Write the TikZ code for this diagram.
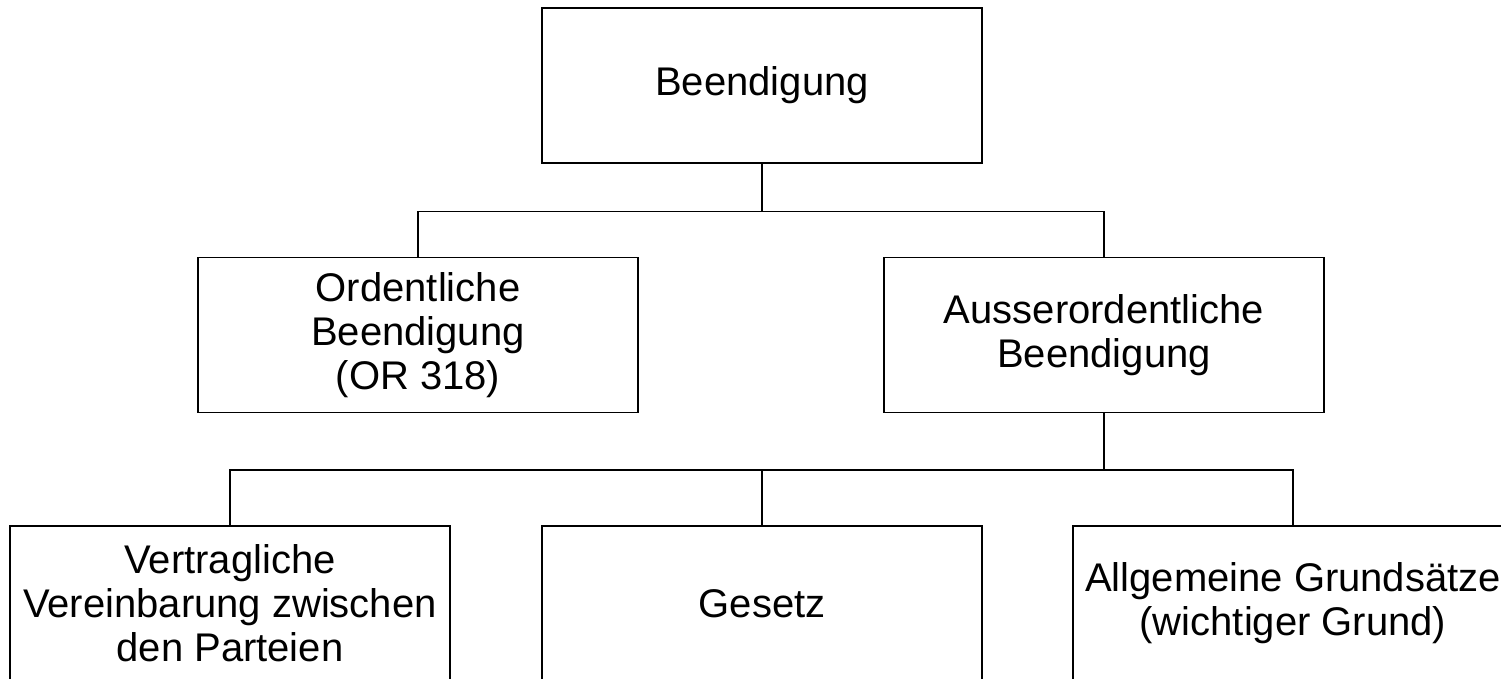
\documentclass[tikz,border=0pt]{standalone}
\usepackage{fontspec}
\setmainfont{Liberation Sans}
\begin{document}
\begin{tikzpicture}[x=1pt, y=1pt, node distance=249.5pt]
\tikzstyle{block} = [rectangle, draw, line width=1.3pt, minimum width=440pt, minimum height=155pt, align=center, inner sep=0pt, font=\fontsize{40}{44}\selectfont]
\tikzstyle{line} = [line width=1.3pt]

\useasboundingbox (0,0) rectangle (1501,679);

\node (beend) [block] at (762,593.5) {Beendigung};
\node (ord) [block, below of=beend, xshift=-344pt] {Ordentliche\\Beendigung\\(OR 318)};
\node (ausser) [block, below of=beend, xshift=342pt] {Ausserordentliche\\Beendigung};
\node (vertrag) [block, below of=ausser, xshift=-874pt, yshift=-19pt] {Vertragliche\\Vereinbarung zwischen\\den Parteien};
\node (gesetz) [block, below of=ausser, xshift=-342pt, yshift=-19pt] {Gesetz};
\node (allg) [block, below of=ausser, xshift=189pt, yshift=-19pt] {Allgemeine Grundsätze\\(wichtiger Grund)};

\draw [line] (beend.south) -- ++(0,-48) coordinate (split1);
\draw [line] (split1) -| (ord.north);
\draw [line] (split1) -| (ausser.north);
\draw [line] (ausser.south) -- ++(0,-57) coordinate (split2);
\draw [line] (split2) -| (vertrag.north);
\draw [line] (split2) -| (gesetz.north);
\draw [line] (split2) -| (allg.north);
\end{tikzpicture}
\end{document}
